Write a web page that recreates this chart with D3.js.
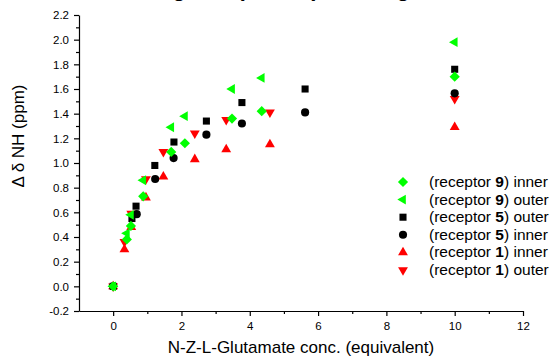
<!DOCTYPE html>
<html>
<head>
<meta charset="utf-8">
<script src="https://cdn.jsdelivr.net/npm/d3@7"></script>
<style>
  body { margin: 0; background: #fff; }
  svg text { font-family: "Liberation Sans", Arial, sans-serif; fill: #000; }
</style>
</head>
<body>
<svg id="chart" width="553" height="357"></svg>
<script>
// titration data (x = equivalents, y = delta delta NH in ppm)
const r9x = [0, 0.4, 0.52, 0.88, 1.7, 2.1, 3.48, 4.35, 10];
const r9inner = [0, 0.38, 0.49, 0.73, 1.09, 1.16, 1.36, 1.42, 1.70];
const r9outer = [0, 0.43, 0.58, 0.86, 1.29, 1.38, 1.60, 1.69, 1.98];

const r5x = [0, 0.55, 0.67, 1.22, 1.78, 2.73, 3.77, 5.62, 10];
const r5outer = [0, 0.55, 0.65, 0.98, 1.17, 1.34, 1.49, 1.60, 1.76];
const r5innerX = [0, 0.69, 1.23, 1.77, 2.73, 3.77, 5.62, 10];
const r5inner = [0, 0.585, 0.87, 1.04, 1.23, 1.32, 1.41, 1.565];

const r1x = [0, 0.33, 0.53, 0.96, 1.47, 2.39, 3.31, 4.59, 10];
const r1inner = [0, 0.30, 0.48, 0.72, 0.89, 1.03, 1.11, 1.15, 1.29];
const r1outer = [0, 0.36, 0.59, 0.87, 1.09, 1.24, 1.35, 1.41, 1.52];

const xMajor = [0, 2, 4, 6, 8, 10, 12];
const xMinor = [1, 3, 5, 7, 9, 11];
const yMajor = [-2, 0, 2, 4, 6, 8, 10, 12, 14, 16, 18, 20, 22].map(d => d / 10);
const yMinor = [-1, 1, 3, 5, 7, 9, 11, 13, 15, 17, 19, 21].map(d => d / 10);

const series = [
  { name: "1", side: "outer", xs: r1x, ys: r1outer, color: "#ff0000", shape: "down" },
  { name: "1", side: "inner", xs: r1x, ys: r1inner, color: "#ff0000", shape: "up" },
  { name: "5", side: "inner", xs: r5innerX, ys: r5inner, color: "#000000", shape: "circle" },
  { name: "5", side: "outer", xs: r5x, ys: r5outer, color: "#000000", shape: "square" },
  { name: "9", side: "outer", xs: r9x, ys: r9outer, color: "#00ff00", shape: "left" },
  { name: "9", side: "inner", xs: r9x, ys: r9inner, color: "#00ff00", shape: "diamond" }
];
const legendOrder = [5, 4, 3, 2, 1, 0];

const svg = d3.select("#chart");
svg.append("rect").attr("width", 553).attr("height", 357).attr("fill", "#fff");

const x = d3.scaleLinear().domain([-1, 12]).range([79, 523]);
const y = d3.scaleLinear().domain([-0.2, 2.2]).range([311, 15]);

// title sits above the picture, only its descenders peek in at the top edge
const title = svg.append("text")
  .attr("y", -4)
  .style("font-size", "22px").style("font-weight", "bold");
title.append("tspan").attr("x", 186).attr("text-anchor", "end").text("Tuning");
title.append("tspan").attr("x", 278).attr("text-anchor", "middle").text("(Δδ NH)");
title.append("tspan").attr("x", 410).attr("text-anchor", "end").text("Binding");

function marker(shape) {
  const s = {
    circle: [d3.symbolCircle, 52, 0],
    square: [d3.symbolSquare, 50, 0],
    diamond: [d3.symbolSquare, 52, 45],
    up: [d3.symbolTriangle, 42, 0],
    down: [d3.symbolTriangle, 42, 180],
    left: [d3.symbolTriangle, 42, -90]
  }[shape];
  return { path: d3.symbol().type(s[0]).size(s[1])(), rot: s[2] };
}

// axes
const yAxis = svg.append("g").attr("transform", "translate(79,0)");
yAxis.call(d3.axisLeft(y).tickValues(yMajor).tickSize(5).tickSizeOuter(0)
  .tickPadding(5).tickFormat(d => d.toFixed(1)));
yAxis.append("g").call(d3.axisLeft(y).tickValues(yMinor).tickSize(3).tickFormat(""))
  .select(".domain").remove();

const xAxis = svg.append("g").attr("transform", "translate(0,311)");
xAxis.call(d3.axisBottom(x).tickValues(xMajor).tickSize(5).tickSizeOuter(0)
  .tickPadding(6).tickFormat(d3.format("d")));
xAxis.append("g").call(d3.axisBottom(x).tickValues(xMinor).tickSize(3).tickFormat(""))
  .select(".domain").remove();

svg.selectAll(".tick text").style("font-size", "11.5px").attr("fill", "#000");
svg.selectAll(".domain, .tick line").attr("stroke", "#000").attr("stroke-width", 1.2);

// axis titles
svg.append("text")
  .attr("transform", "translate(24,136) rotate(-90)")
  .attr("text-anchor", "middle")
  .style("font-size", "17px")
  .text("Δ δ NH (ppm)");

svg.append("text")
  .attr("x", 301).attr("y", 353)
  .attr("text-anchor", "middle")
  .style("font-size", "17px")
  .text("N-Z-L-Glutamate conc. (equivalent)");

// points
series.forEach(s => {
  const m = marker(s.shape);
  svg.append("g").selectAll("path")
    .data(s.xs.map((xv, i) => [xv, s.ys[i]]))
    .join("path")
    .attr("d", m.path)
    .attr("transform", d => `translate(${x(d[0])},${y(d[1])}) rotate(${m.rot})`)
    .attr("fill", s.color);
});

// legend
const legend = svg.append("g");
legendOrder.forEach((idx, i) => {
  const s = series[idx];
  const m = marker(s.shape);
  const ly = 182 + i * 17.6;
  legend.append("path")
    .attr("d", m.path)
    .attr("transform", `translate(403,${ly}) rotate(${m.rot})`)
    .attr("fill", s.color);
  const t = legend.append("text")
    .attr("x", 429).attr("y", ly + 5)
    .style("font-size", "15.5px");
  t.append("tspan").text("(receptor ");
  t.append("tspan").style("font-weight", "bold").text(s.name);
  t.append("tspan").text(") " + s.side);
});
</script>
</body>
</html>
